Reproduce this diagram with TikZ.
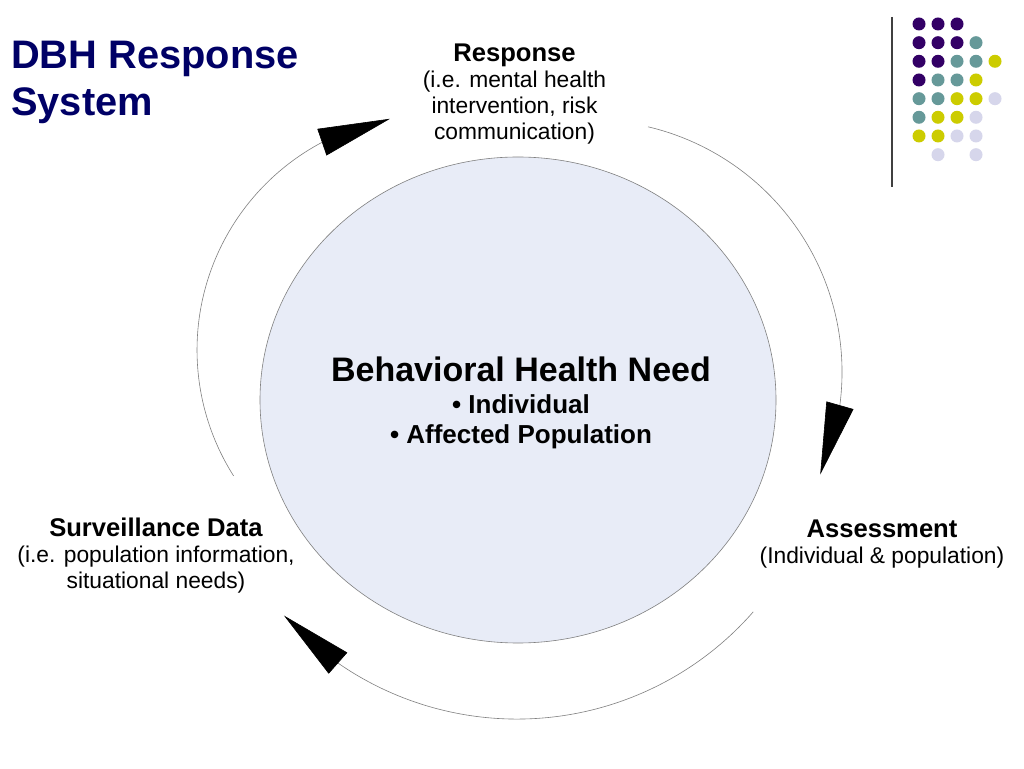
\documentclass[tikz,border=0pt]{standalone}
\usepackage{fontspec}
\setmainfont{Liberation Sans}
\usetikzlibrary{arrows.meta,bending,shapes.geometric}
\definecolor{titleblue}{RGB}{0,0,102}
\definecolor{needfill}{RGB}{232,236,247}
\definecolor{dotpurple}{RGB}{51,0,102}
\definecolor{dotteal}{RGB}{102,153,153}
\definecolor{dotyellow}{RGB}{204,204,0}
\definecolor{dotlilac}{RGB}{214,214,235}
\tikzset{
	cyclearc/.style={draw=black!50, line width=0.6pt, -{Triangle[length=72pt,width=28pt,color=black]}},
	steplabel/.style={align=center, inner sep=0pt, font=\fontsize{22.8}{25.8}\selectfont},
	needtext/.style={align=center, inner sep=0pt, font=\bfseries\fontsize{26}{30}\selectfont}
}

\begin{document}
\begin{tikzpicture}[x=1pt, y=1pt]
			%%%%% START %%%%%
			
			\fill[white] (0, 0) rectangle (1024, 768);
			\useasboundingbox (0, 0) rectangle (1024, 768);
			
			\node[anchor=north west, align=left, inner sep=0pt, text=titleblue, font=\bfseries\fontsize{39.8}{46.5}\selectfont] (title) at (11, 727) {DBH Response\\System};
			
			\draw[line width=1.2pt, color=black!75] (892, 751) -- (892, 581);
			
			\fill[dotpurple] (919, 744) circle (6.5) (938, 744) circle (6.5) (957, 744) circle (6.5)
				(919, 725.3) circle (6.5) (938, 725.3) circle (6.5) (957, 725.3) circle (6.5)
				(919, 706.7) circle (6.5) (938, 706.7) circle (6.5) (919, 688) circle (6.5);
			\fill[dotteal] (976, 725.3) circle (6.5) (957, 706.7) circle (6.5) (976, 706.7) circle (6.5)
				(938, 688) circle (6.5) (957, 688) circle (6.5) (919, 669.3) circle (6.5)
				(938, 669.3) circle (6.5) (919, 650.7) circle (6.5);
			\fill[dotyellow] (995, 706.7) circle (6.5) (976, 688) circle (6.5) (957, 669.3) circle (6.5)
				(976, 669.3) circle (6.5) (938, 650.7) circle (6.5) (957, 650.7) circle (6.5)
				(919, 632) circle (6.5) (938, 632) circle (6.5);
			\fill[dotlilac] (995, 669.3) circle (6.5) (976, 650.7) circle (6.5) (957, 632) circle (6.5)
				(976, 632) circle (6.5) (938, 613.3) circle (6.5) (976, 613.3) circle (6.5);
			
			\draw[fill=needfill, draw=black!50, line width=0.6pt] (518, 368) ellipse [x radius=258, y radius=243];
			\node[needtext] (need) at (521, 365) {{\fontsize{34}{30}\selectfont Behavioral Health Need}\\[1.5pt]• Individual\\• Affected Population};
			
			\node[steplabel, anchor=north] (response) at (514.5, 724) {{\bfseries\fontsize{25.6}{25.8}\selectfont Response}\\(i.e. mental health\\intervention, risk\\communication)};
			\node[steplabel, anchor=north] (assessment) at (882, 248) {{\bfseries\fontsize{25.6}{25.8}\selectfont Assessment}\\(Individual \& population)};
			\node[steplabel, anchor=north] (surveillance) at (156, 250) {{\bfseries\fontsize{25.6}{25.8}\selectfont Surveillance Data}\\(i.e. population information,\\situational needs)};
			
			\coordinate (survtop) at (233.6, 292.1);
			\coordinate (resptop) at (648, 641.2);
			\coordinate (assessbot) at (753.2, 156.1);
			
			\draw[cyclearc] (survtop) arc[start angle=212.4, end angle=100.3, radius=235];
			\draw[cyclearc] (resptop) arc[start angle=76.7, end angle=-24, radius=252];
			\draw[cyclearc] (assessbot) arc[start angle=-41.2, end angle=-137.9, radius=314];
			
			%%%%% END %%%%%
\end{tikzpicture}
\end{document}
